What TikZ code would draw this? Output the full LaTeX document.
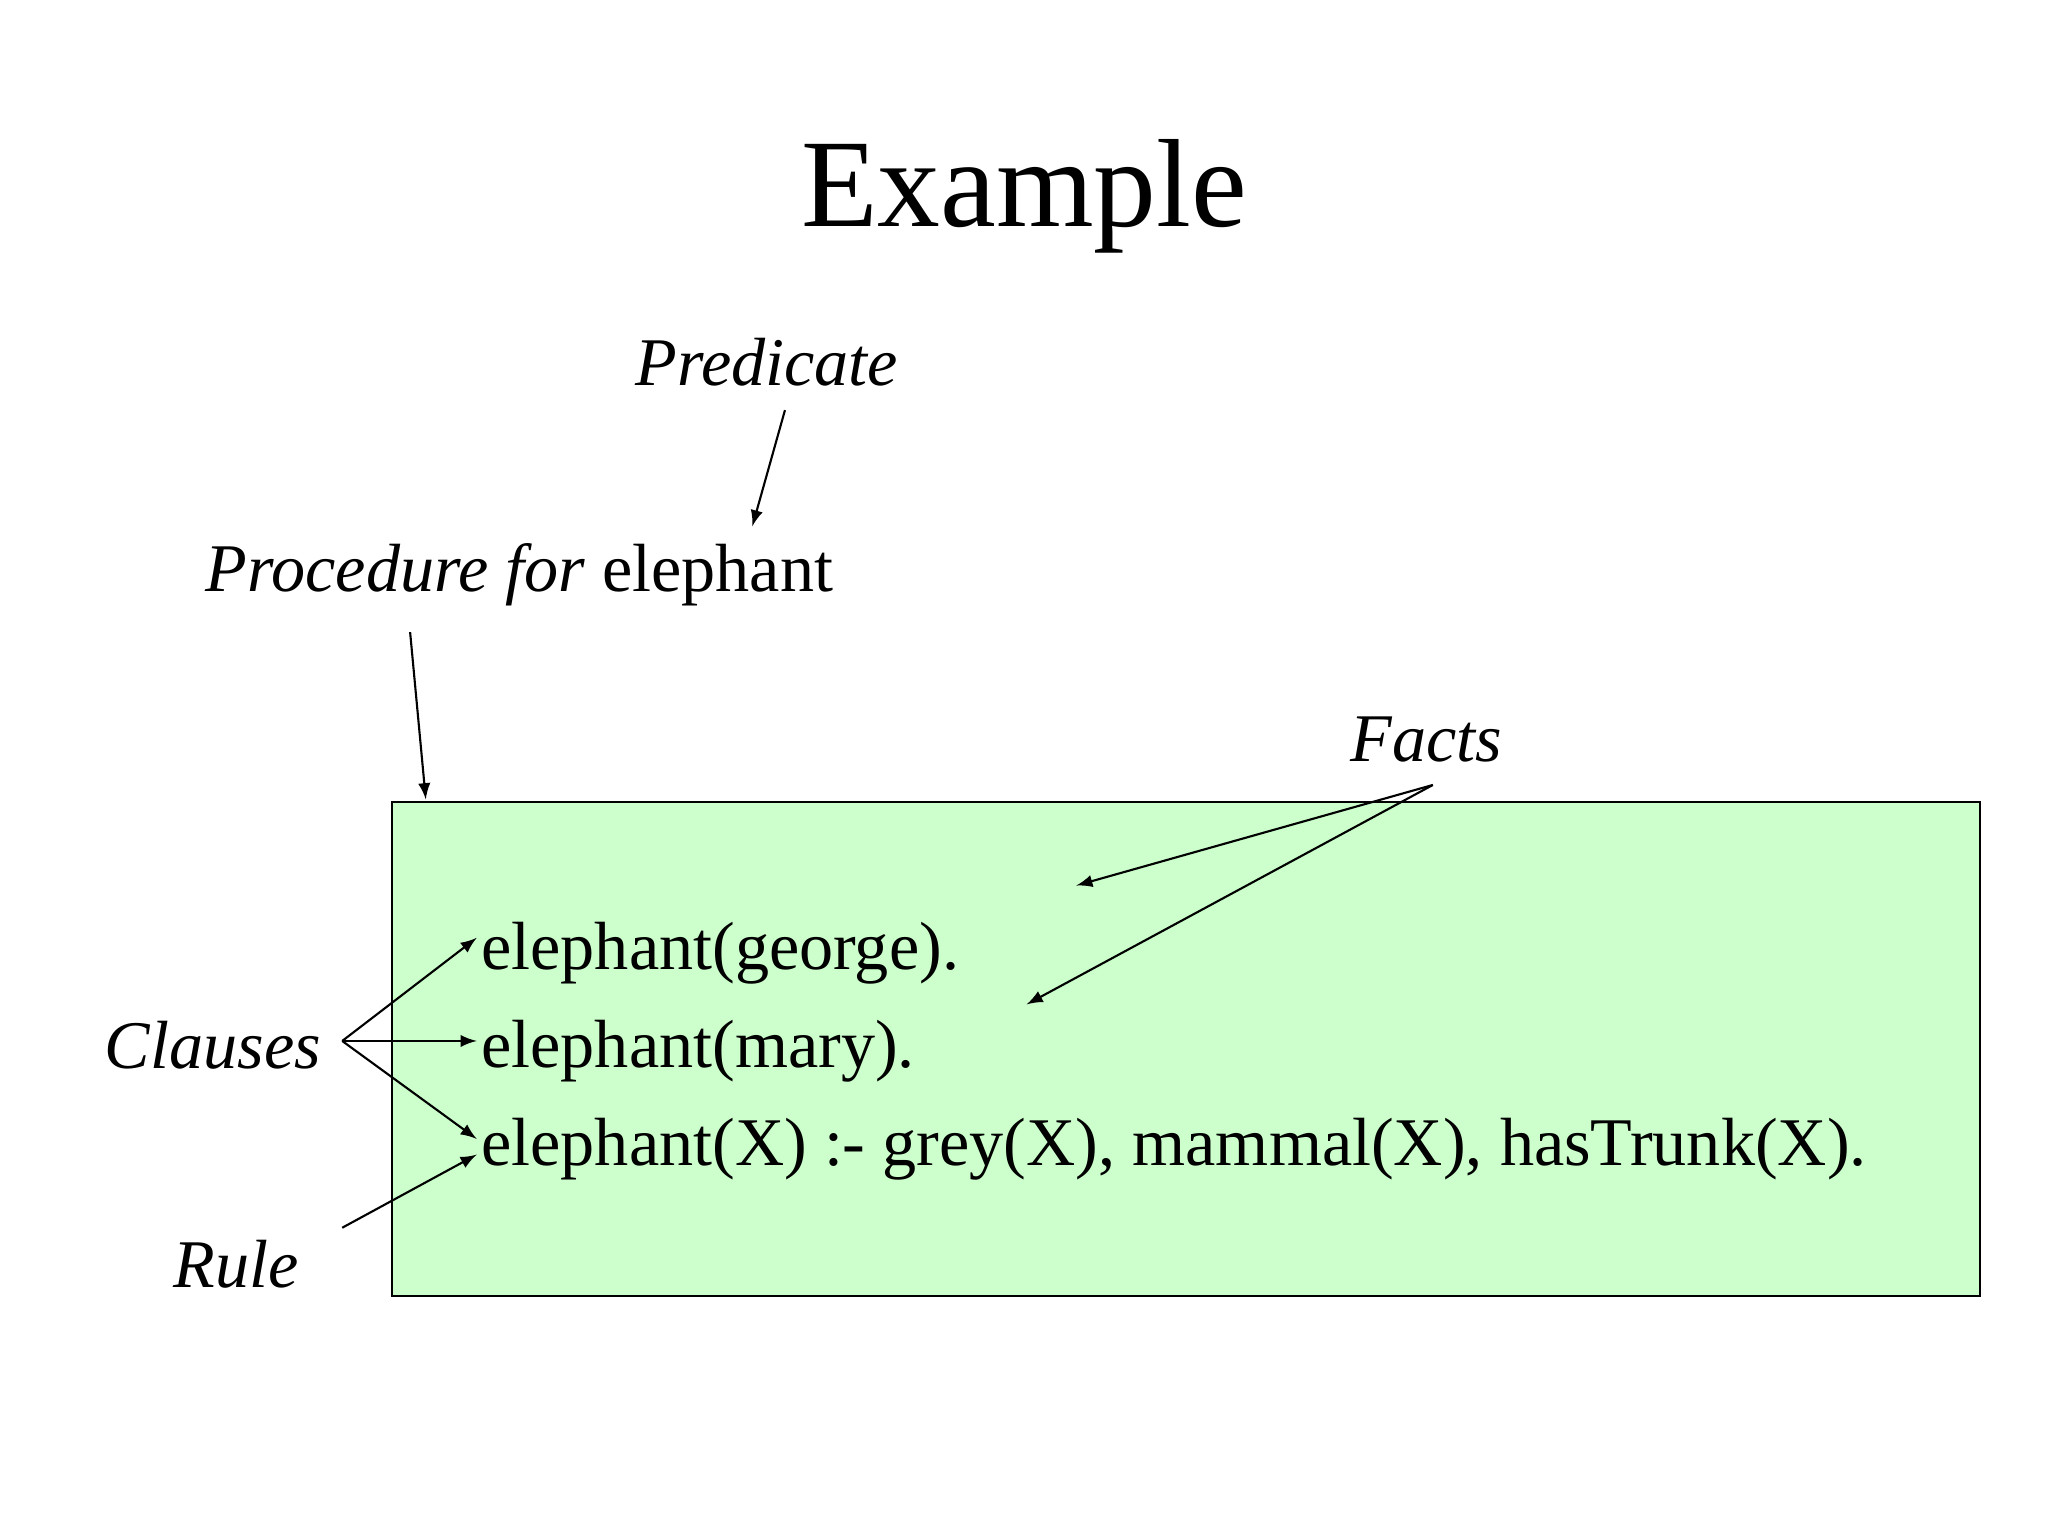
\documentclass[tikz,border=0pt]{standalone}
\usepackage{fontspec}
\setmainfont{Liberation Serif}
\begin{document}
\begin{tikzpicture}[x=0.01306cm,y=-0.01306cm,
  lbl/.style={font=\fontsize{19.4}{22}\selectfont\itshape,inner sep=0pt},
  code/.style={font=\fontsize{19.4}{22}\selectfont,inner sep=0pt,anchor=west},
  arr/.style={-latex,line width=0.6pt}]
\useasboundingbox (0,0) rectangle (1568,1176);
\node[font=\fontsize{35.7}{40}\selectfont] (title) at (784,150) {Example};
\draw[fill={rgb,255:red,204;green,255;blue,204},line width=0.5pt] (300,614) rectangle (1516,992);
\node[lbl] (pred) at (587,277) {Predicate};
\node[lbl,anchor=west] (proc) at (157,440) {Procedure for \upshape elephant};
\node[lbl] (facts) at (1092,566) {Facts};
\node[lbl] (clauses) at (163,800) {Clauses};
\node[lbl] (rule) at (181,968) {Rule};
\node[code] (l1) at (368,730) {elephant(george).};
\node[code] (l2) at (368,805) {elephant(mary).};
\node[code] (l3) at (368,880) {elephant(X) :- grey(X), mammal(X), hasTrunk(X).};
\coordinate (p1) at (601,314); \coordinate (p2) at (576,403);
\coordinate (q1) at (314,484); \coordinate (q2) at (326,612);
\coordinate (f0) at (1097,601); \coordinate (f1) at (824,678); \coordinate (f2) at (786,769);
\coordinate (c0) at (262,797);
\coordinate (r0) at (262,940);
\draw[arr] (p1) -- (p2);
\draw[arr] (q1) -- (q2);
\draw[arr] (f0) -- (f1);
\draw[arr] (f0) -- (f2);
\draw[arr] (c0) -- ([shift={(-3,-12)}]l1.west);
\draw[arr] (c0) -- ([shift={(-3,-8)}]l2.west);
\draw[arr] (c0) -- ([shift={(-3,-8)}]l3.west);
\draw[arr] (r0) -- ([shift={(-3,4)}]l3.west);
\end{tikzpicture}
\end{document}
